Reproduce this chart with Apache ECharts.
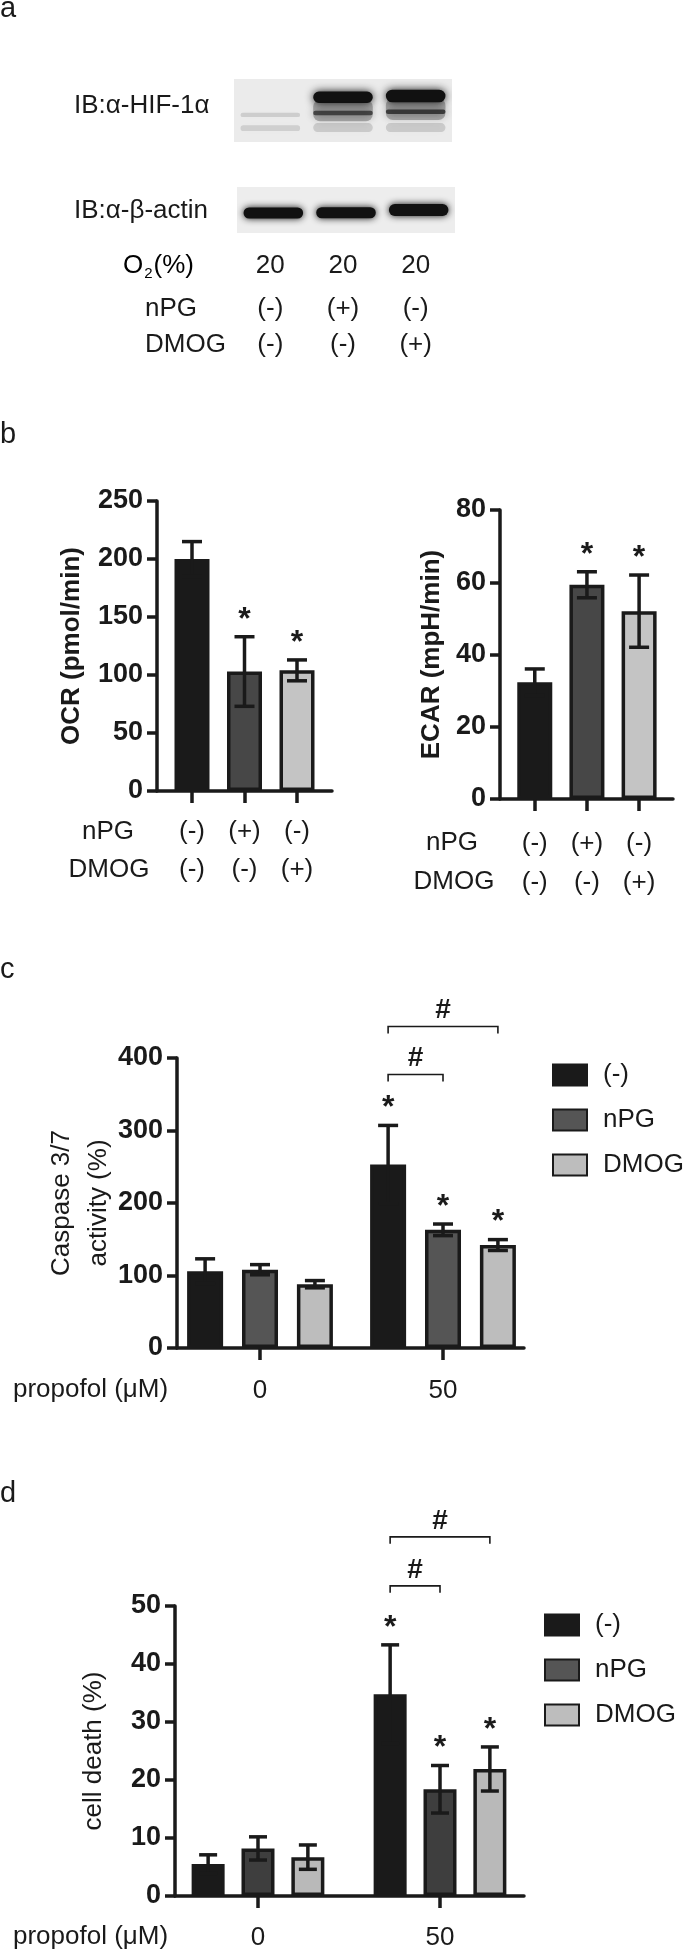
<!DOCTYPE html>
<html><head><meta charset="utf-8">
<script src="https://cdn.jsdelivr.net/npm/echarts@6/dist/echarts.min.js"></script>
<style>html,body{margin:0;padding:0;background:#fff}#c{width:685px;height:1952px}</style>
</head><body><div id="c"></div>
<script>
// ================= DATA =================
// panel a (western blot)
const blotLanes = ['lane1', 'lane2', 'lane3'];
const o2Row = ['20', '20', '20'];
const nPGRow = ['(-)', '(+)', '(-)'];
const dmogRow = ['(-)', '(-)', '(+)'];
// bands: [lane, migration (0 = top .. 1 = bottom), intensity, thickness]
const hifBands = [
  [0, 0.57, 0.13, 0.07], [0, 0.78, 0.12, 0.09],
  [1, 0.50, 0.28, 0.34], [1, 0.29, 1.00, 0.18], [1, 0.54, 0.62, 0.07], [1, 0.77, 0.14, 0.14],
  [2, 0.48, 0.28, 0.34], [2, 0.27, 1.00, 0.20], [2, 0.52, 0.68, 0.07], [2, 0.77, 0.14, 0.14]
];
const actinBands = [[0, 0.565, 1, 0.24], [1, 0.56, 1, 0.24], [2, 0.50, 1, 0.26]];

// panel b
const ocrMean = [200, 103, 104];
const ocrErr = [15, 30, 9];
const ocrSig = ['', '*', '*'];
const ecarMean = [32.3, 59.3, 52];
const ecarErr = [3.7, 3.6, 10];
const ecarSig = ['', '*', '*'];

// panels c, d
const propofol = ['0', '50'];
const treatments = ['(-)', 'nPG', 'DMOG'];
const caspNone = [106, 253], caspNoneErr = [17, 54], caspNoneSig = ['', '*'];
const caspNPG = [108, 163], caspNPGErr = [7, 8], caspNPGSig = ['', '*'];
const caspDMOG = [88, 142], caspDMOGErr = [5, 7.5], caspDMOGSig = ['', '*'];
const caspBrackets = [[1, 0, 1], [1, 0, 2]]; // [group, from treatment, to treatment]
const caspBracketMarks = ['#', '#'];
const deathNone = [5.5, 34.8], deathNoneErr = [1.6, 8.5], deathNoneSig = ['', '*'];
const deathNPG = [8.2, 18.4], deathNPGErr = [2.0, 4.1], deathNPGSig = ['', '*'];
const deathDMOG = [6.7, 21.9], deathDMOGErr = [2.1, 3.8], deathDMOGSig = ['', '*'];
const deathBrackets = [[1, 0, 1], [1, 0, 2]];
const deathBracketMarks = ['#', '#'];

// ================= STYLE / LAYOUT =================
const FONT = '"Liberation Sans", Arial, Helvetica, sans-serif';
const INK = '#1a1a1a';
const LW = 3.5;

const chart = echarts.init(document.getElementById('c'), null, {renderer: 'canvas', width: 685, height: 1952});

function txt(x, y, text, o) {
  o = o || {};
  return {type: 'text', x: x, y: y, silent: true, style: Object.assign({
    text: text, fill: INK, fontFamily: FONT, fontSize: 26, fontWeight: 'normal',
    align: 'left', verticalAlign: 'middle'}, o)};
}

function blotSeries(xi, yi, data, blur) {
  return {
    type: 'custom', xAxisIndex: xi, yAxisIndex: yi, clip: true, silent: true,
    data: data, encode: {x: 0, y: 1},
    renderItem: function (params, api) {
      const c = api.coord([api.value(0), api.value(1)]);
      const bw = api.size([1, 0])[0] * 0.82;
      const h = Math.abs(api.size([0, api.value(3)])[1]);
      const a = api.value(2);
      const col = 'rgba(17,17,17,' + a + ')';
      return {type: 'rect', shape: {x: c[0] - bw / 2, y: c[1] - h / 2, width: bw, height: h, r: Math.min(h / 2, 7)},
        style: {fill: col, shadowBlur: blur, shadowColor: col}};
    }
  };
}

function errSeries(xi, yi, xs, means, errs, sigs, cap, starGap) {
  return {
    type: 'custom', xAxisIndex: xi, yAxisIndex: yi, z: 5, clip: false, silent: true,
    data: xs.map((x, i) => [x, means[i], errs[i]]),
    encode: {x: 0, y: 1},
    renderItem: function (params, api) {
      const i = params.dataIndex;
      const x = api.value(0), m = api.value(1), e = api.value(2);
      const top = api.coord([x, m + e]), bot = api.coord([x, m - e]);
      const hw = cap / 2;
      const st = {stroke: INK, lineWidth: LW};
      const ch = [
        {type: 'line', shape: {x1: top[0], y1: top[1], x2: bot[0], y2: bot[1]}, style: st},
        {type: 'line', shape: {x1: top[0] - hw, y1: top[1], x2: top[0] + hw, y2: top[1]}, style: st},
        {type: 'line', shape: {x1: bot[0] - hw, y1: bot[1], x2: bot[0] + hw, y2: bot[1]}, style: st}
      ];
      if (sigs[i]) {
        ch.push({type: 'text', style: {text: sigs[i], x: top[0], y: top[1] - starGap, align: 'center',
          verticalAlign: 'middle', fill: INK, fontFamily: FONT, fontSize: 32, fontWeight: 'bold'}});
      }
      return {type: 'group', children: ch};
    }
  };
}

function bracketSeries(xi, yi, brackets, marks, xposFn, means, errs, levels) {
  return {
    type: 'custom', xAxisIndex: xi, yAxisIndex: yi, z: 6, clip: false, silent: true,
    data: brackets.map(b => {
      let top = -Infinity;
      for (let s = b[1]; s <= b[2]; s++) top = Math.max(top, means[s][b[0]] + errs[s][b[0]]);
      return [xposFn(b[0], b[1]), top, xposFn(b[0], b[2])];
    }),
    encode: {x: 0, y: 1},
    renderItem: function (params, api) {
      const i = params.dataIndex;
      const p = api.coord([api.value(0), api.value(1)]);
      const q = api.coord([api.value(2), api.value(1)]);
      const y = p[1] - levels[i];
      return {type: 'group', children: [
        {type: 'polyline', shape: {points: [[p[0], y + 7], [p[0], y], [q[0], y], [q[0], y + 7]]},
          style: {stroke: INK, lineWidth: 1.6, fill: null}},
        {type: 'text', style: {text: marks[i], x: (p[0] + q[0]) / 2, y: y - 16, align: 'center', verticalAlign: 'middle',
          fill: INK, fontFamily: FONT, fontSize: 28, fontWeight: 'bold'}}
      ]};
    }
  };
}

function yAxisDef(gi, max, interval, name, nameGap, bold, nameLH) {
  return {
    type: 'value', gridIndex: gi, min: 0, max: max, interval: interval,
    name: name, nameLocation: 'middle', nameGap: nameGap, nameRotate: 90, nameMoveOverlap: false,
    nameTextStyle: {fontFamily: FONT, fontSize: 26, fontWeight: bold ? 'bold' : 'normal', color: INK, lineHeight: nameLH, align: 'center'},
    axisLine: {show: true, onZero: false, lineStyle: {color: INK, width: LW}},
    axisTick: {show: true, length: 10, lineStyle: {color: INK, width: LW}},
    axisLabel: {fontFamily: FONT, fontSize: 27, fontWeight: 'bold', color: INK, margin: 14},
    splitLine: {show: false}
  };
}

function xValueAxis(gi, min, max, ticks, fmt, margin, lineHeight) {
  return {
    type: 'value', gridIndex: gi, min: min, max: max,
    axisLine: {show: true, onZero: false, lineStyle: {color: INK, width: LW}},
    axisTick: {show: true, customValues: ticks, length: 12, lineStyle: {color: INK, width: LW}},
    axisLabel: {show: true, customValues: ticks, formatter: fmt, fontFamily: FONT, fontSize: 26, color: INK,
      margin: margin, lineHeight: lineHeight},
    splitLine: {show: false}
  };
}

function rowAxis(gi, labels, dist) {
  return {
    type: 'category', gridIndex: gi, data: blotLanes, position: 'bottom', offset: 0,
    axisLine: {show: false}, axisTick: {show: false}, splitLine: {show: false},
    axisLabel: {show: true, interval: 0, formatter: (v, i) => labels[i], margin: dist, verticalAlign: 'middle',
      fontFamily: FONT, fontSize: 26, color: INK}
  };
}

// grouped bar x positions (panels c, d)
const STEP_C = 0.3, STEP_D = 0.274;
const xposC = (g, s) => g + (s - 1) * STEP_C;
const xposD = (g, s) => g + (s - 1) * STEP_D;

const shadesB = ['#1a1a1a', '#474747', '#c4c4c4'];
const shadesC = ['#1a1a1a', '#555555', '#bdbdbd'];
const shadesD = ['#1a1a1a', '#3e3e3e', '#b9b9b9'];

const caspMeans = [caspNone, caspNPG, caspDMOG];
const caspErrs = [caspNoneErr, caspNPGErr, caspDMOGErr];
const caspSigs = [caspNoneSig, caspNPGSig, caspDMOGSig];
const deathMeans = [deathNone, deathNPG, deathDMOG];
const deathErrs = [deathNoneErr, deathNPGErr, deathDMOGErr];
const deathSigs = [deathNoneSig, deathNPGSig, deathDMOGSig];

const grids = [
  {left: 234, top: 79, width: 218, height: 63, show: true, backgroundColor: '#ebebeb', borderWidth: 0, outerBoundsMode: 'none'}, // HIF blot
  {left: 237, top: 187, width: 218, height: 46, show: true, backgroundColor: '#ededed', borderWidth: 0, outerBoundsMode: 'none'}, // actin blot
  {left: 157, top: 501, width: 175, height: 290, outerBoundsMode: 'none'},  // OCR
  {left: 500, top: 510, width: 173, height: 289, outerBoundsMode: 'none'},  // ECAR
  {left: 177, top: 1058, width: 347, height: 290, outerBoundsMode: 'none'}, // caspase
  {left: 175, top: 1606, width: 349, height: 290, outerBoundsMode: 'none'}  // cell death
];

const xAxes = [
  {type: 'category', gridIndex: 0, data: blotLanes, show: false},
  {type: 'category', gridIndex: 1, data: blotLanes, show: false},
  rowAxis(0, o2Row, 124),
  rowAxis(0, nPGRow, 167),
  rowAxis(0, dmogRow, 203),
  xValueAxis(2, 1 / 3, 11 / 3, [1, 2, 3], v => nPGRow[Math.round(v) - 1] + '\n' + dmogRow[Math.round(v) - 1], 22, 38),
  xValueAxis(3, 1 / 3, 3.65, [1, 2, 3], v => nPGRow[Math.round(v) - 1] + '\n' + dmogRow[Math.round(v) - 1], 25, 39),
  xValueAxis(4, -0.4536, 1.4426, [0, 1], v => propofol[Math.round(v)], 28, 30),
  xValueAxis(5, -0.456, 1.4615, [0, 1], v => propofol[Math.round(v)], 27, 30)
];

const yAxes = [
  {type: 'value', gridIndex: 0, min: 0, max: 1, inverse: true, show: false},
  {type: 'value', gridIndex: 1, min: 0, max: 1, inverse: true, show: false},
  yAxisDef(2, 250, 50, 'OCR (pmol/min)', 70, true, 30),
  yAxisDef(3, 80, 20, 'ECAR (mpH/min)', 53, true, 30),
  yAxisDef(4, 400, 100, 'Caspase 3/7\nactivity (%)', 60, false, 37),
  yAxisDef(5, 50, 10, 'cell death (%)', 66, false, 30)
];

const series = [];
series.push(blotSeries(0, 0, hifBands, 9));
series.push(blotSeries(1, 1, actinBands, 7));

// panel b
const laneX = [1, 2, 3];
series.push({type: 'bar', name: 'OCR', xAxisIndex: 5, yAxisIndex: 2, barWidth: 35, silent: true,
  data: ocrMean.map((v, i) => ({value: [laneX[i], v], itemStyle: {color: shadesB[i]}})),
  itemStyle: {borderColor: INK, borderWidth: LW}});
series.push(errSeries(5, 2, laneX, ocrMean, ocrErr, ocrSig, 20, 17));
series.push({type: 'bar', name: 'ECAR', xAxisIndex: 6, yAxisIndex: 3, barWidth: 35, silent: true,
  data: ecarMean.map((v, i) => ({value: [laneX[i], v], itemStyle: {color: shadesB[i]}})),
  itemStyle: {borderColor: INK, borderWidth: LW}});
series.push(errSeries(6, 3, laneX, ecarMean, ecarErr, ecarSig, 20, 17));

// panel c
treatments.forEach((t, s) => {
  series.push({type: 'bar', name: t, xAxisIndex: 7, yAxisIndex: 4, barWidth: 36, barGap: '-100%', silent: true,
    data: propofol.map((p, g) => [xposC(g, s), caspMeans[s][g]]),
    itemStyle: {color: shadesC[s], borderColor: INK, borderWidth: LW}});
});
treatments.forEach((t, s) => {
  series.push(errSeries(7, 4, propofol.map((p, g) => xposC(g, s)), caspMeans[s], caspErrs[s], caspSigs[s], 20, 17));
});
series.push(bracketSeries(7, 4, caspBrackets, caspBracketMarks, xposC, caspMeans, caspErrs, [51, 99]));

// panel d
treatments.forEach((t, s) => {
  series.push({type: 'bar', name: t, xAxisIndex: 8, yAxisIndex: 5, barWidth: 33, barGap: '-100%', silent: true,
    data: propofol.map((p, g) => [xposD(g, s), deathMeans[s][g]]),
    itemStyle: {color: shadesD[s], borderColor: INK, borderWidth: LW}});
});
treatments.forEach((t, s) => {
  series.push(errSeries(8, 5, propofol.map((p, g) => xposD(g, s)), deathMeans[s], deathErrs[s], deathSigs[s], 18, 17));
});
series.push(bracketSeries(8, 5, deathBrackets, deathBracketMarks, xposD, deathMeans, deathErrs, [59, 108]));

function legendDef(left, top) {
  return {show: true, left: left, top: top, orient: 'vertical', itemWidth: 34, itemHeight: 21, itemGap: 19,
    icon: 'rect', selectedMode: false, data: treatments, padding: 0,
    textStyle: {fontFamily: FONT, fontSize: 26, color: INK, padding: [0, 0, 0, 11]}};
}

const graphics = [
  txt(0, 9, 'a', {fontSize: 29}),
  txt(74, 106, 'IB:α-HIF-1α'),
  txt(74, 211, 'IB:α-β-actin'),
  {type: 'text', x: 123, y: 266, silent: true, style: {text: '{a|O}{s|2}{a|(%)}', verticalAlign: 'middle', align: 'left',
    rich: {a: {fontFamily: FONT, fontSize: 26, color: INK, lineHeight: 30},
           s: {fontFamily: FONT, fontSize: 15, color: INK, lineHeight: 30, verticalAlign: 'bottom', padding: [0, 1, 0, 1]}}}},
  txt(145, 309, 'nPG'),
  txt(145, 345, 'DMOG'),
  txt(0, 435, 'b', {fontSize: 29}),
  txt(108, 832, 'nPG', {align: 'center'}),
  txt(109, 870, 'DMOG', {align: 'center'}),
  txt(452, 843, 'nPG', {align: 'center'}),
  txt(454, 882, 'DMOG', {align: 'center'}),
  txt(0, 970, 'c', {fontSize: 29}),
  txt(13, 1390, 'propofol (μM)'),
  txt(0, 1494, 'd', {fontSize: 29}),
  txt(13, 1937, 'propofol (μM)')
];

chart.setOption({
  backgroundColor: '#ffffff',
  animation: false,
  textStyle: {fontFamily: FONT},
  grid: grids,
  xAxis: xAxes,
  yAxis: yAxes,
  legend: [legendDef(552, 1062), legendDef(544, 1612)],
  series: series,
  graphic: graphics
});
</script>
</body></html>
